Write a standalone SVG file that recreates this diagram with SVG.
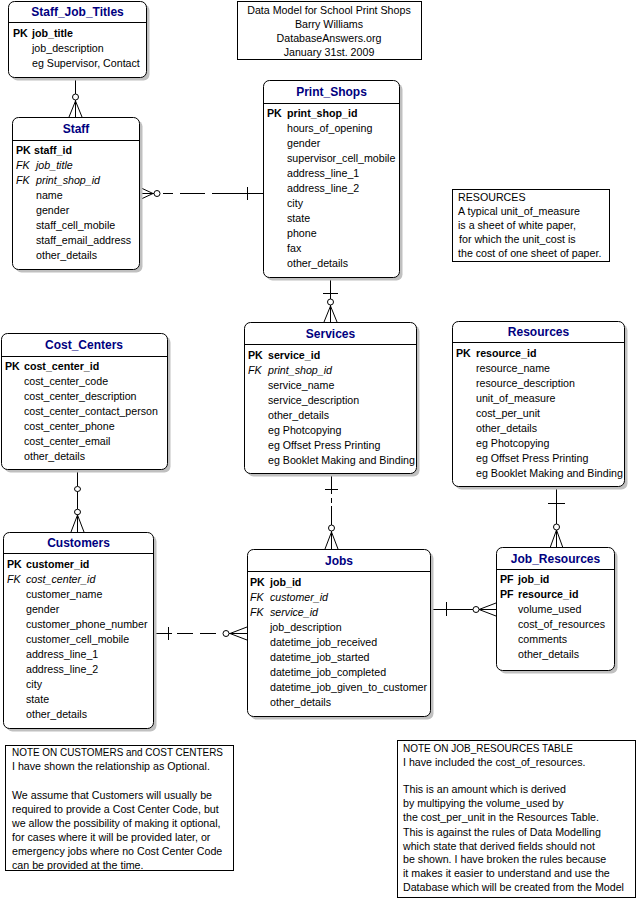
<svg xmlns="http://www.w3.org/2000/svg" width="638" height="900" viewBox="0 0 638 900">
<style>
text{font-family:"Liberation Sans",Arial,sans-serif;font-size:10.67px;fill:#000}
.t{font-size:12px;font-weight:bold;fill:#000080;text-anchor:middle}
.k{font-weight:bold}
.f{font-style:italic}
.sh{fill:#c0c0c0}
.bx{fill:#fff;stroke:#000;stroke-width:1}
.hl{stroke:#000;stroke-width:1}
.nt{fill:#fff;stroke:#000;stroke-width:1}
.c{text-anchor:middle}
#connectors line,#connectors path{stroke:#000;stroke-width:1;fill:none}
#connectors ellipse{stroke:#000;stroke-width:1;fill:#fff}
</style>
<rect width="638" height="900" fill="#fff"/>

<g id="title_note">
<rect class="nt" x="237.5" y="1.5" width="184" height="58"/>
<text class="c" x="329" y="14">Data Model for School Print Shops</text>
<text class="c" x="329" y="28">Barry Williams</text>
<text class="c" x="329" y="42">DatabaseAnswers.org</text>
<text class="c" x="329" y="56">January 31st. 2009</text>
</g>

<g id="resources_note">
<rect class="nt" x="452.5" y="189.5" width="157" height="72"/>
<text x="458" y="201">RESOURCES</text>
<text x="458" y="215">A typical unit_of_measure</text>
<text x="458" y="229">is a sheet of white paper,</text>
<text x="459" y="243">for which the unit_cost is</text>
<text x="458" y="257">the cost of one sheet of paper.</text>
</g>

<g id="customers_note">
<rect class="nt" x="5.5" y="745.5" width="228" height="125"/>
<text x="12" y="756" textLength="211" lengthAdjust="spacingAndGlyphs">NOTE ON CUSTOMERS and COST CENTERS</text>
<text x="12" y="770">I have shown the relationship as Optional.</text>
<text x="12" y="798.5">We assume that Customers will usually be</text>
<text x="12" y="812.5">required to provide a Cost Center Code, but</text>
<text x="12" y="826.5">we allow the possibility of making it optional,</text>
<text x="12" y="840.5">for cases where it will be provided later, or</text>
<text x="12" y="854.5">emergency jobs where no Cost Center Code</text>
<text x="12" y="868.5">can be provided at the time.</text>
</g>

<g id="job_resources_note">
<rect class="nt" x="397.5" y="740.5" width="238" height="157"/>
<text x="403" y="752" textLength="170" lengthAdjust="spacingAndGlyphs">NOTE ON JOB_RESOURCES TABLE</text>
<text x="403" y="766">I have included the cost_of_resources.</text>
<text x="403" y="793">This is an amount which is derived</text>
<text x="403" y="807">by multipying the volume_used by</text>
<text x="403" y="821">the cost_per_unit in the Resources Table.</text>
<text x="403" y="835.5">This is against the rules of Data Modelling</text>
<text x="403" y="849.5">which state that derived fields should not</text>
<text x="403" y="863">be shown. I have broken the rules because</text>
<text x="403" y="877">it makes it easier to understand and use the</text>
<text x="403" y="891">Database which will be created from the Model</text>
</g>

<g id="connectors">
<!-- Staff_Job_Titles to Staff -->
<line x1="75.5" y1="77" x2="75.5" y2="94"/>
<ellipse cx="75.5" cy="97" rx="3" ry="3"/>
<line x1="75.5" y1="100" x2="75.5" y2="117"/>
<path d="M75.5,101 L69,117 M75.5,101 L82,117"/>
<!-- Staff to Print_Shops -->
<path d="M139,187 L153,193.5 L139,200 M139,193.5 L154,193.5"/>
<ellipse cx="157" cy="193.5" rx="3" ry="3"/>
<path d="M163,193.5 H173 M180,193.5 H205 M212,193.5 H263 M247.5,187 V200"/>
<!-- Print_Shops to Services -->
<line x1="330.5" y1="277" x2="330.5" y2="299"/>
<line x1="323" y1="293.5" x2="338" y2="293.5"/>
<ellipse cx="330.5" cy="302" rx="3" ry="3"/>
<line x1="330.5" y1="305" x2="330.5" y2="322"/>
<path d="M330.5,306 L324,322 M330.5,306 L337,322"/>
<!-- Cost_Centers to Customers -->
<line x1="77.5" y1="469" x2="77.5" y2="486"/>
<ellipse cx="77.5" cy="489" rx="3" ry="2.5"/>
<line x1="77.5" y1="491.5" x2="77.5" y2="509"/>
<ellipse cx="77.5" cy="512" rx="3" ry="2.7"/>
<line x1="77.5" y1="514.5" x2="77.5" y2="532"/>
<path d="M77.5,515 L71,532 M77.5,515 L84,532"/>
<!-- Services to Jobs -->
<path d="M331.5,474 V494 M325,489.5 H338 M331.5,498 V503 M331.5,506 V525"/>
<ellipse cx="331.5" cy="528" rx="3" ry="3"/>
<line x1="331.5" y1="531" x2="331.5" y2="549"/>
<path d="M331.5,532 L325,549 M331.5,532 L338,549"/>
<!-- Customers to Jobs -->
<path d="M153,633.5 H172 M168.5,627 V640 M177,633.5 H193 M200,633.5 H216"/>
<ellipse cx="226" cy="633.5" rx="3" ry="3"/>
<path d="M229,633.5 H247 M230,633.5 L247,627 M230,633.5 L247,640"/>
<!-- Resources to Job_Resources -->
<line x1="556.5" y1="486" x2="556.5" y2="524"/>
<line x1="548" y1="503.5" x2="565" y2="503.5"/>
<ellipse cx="556.5" cy="527" rx="3" ry="3"/>
<line x1="556.5" y1="530" x2="556.5" y2="548"/>
<path d="M556.5,530 L550,548 M556.5,530 L563,548"/>
<!-- Jobs to Job_Resources -->
<line x1="430" y1="609.5" x2="473" y2="609.5"/>
<line x1="446.5" y1="602" x2="446.5" y2="616"/>
<ellipse cx="476" cy="609.5" rx="3" ry="3"/>
<path d="M479,609.5 H496 M479,609.5 L496,603 M479,609.5 L496,616"/>
</g>

<g id="Staff_Job_Titles">
<rect class="sh" x="11.5" y="4.5" width="138" height="76" rx="6"/>
<rect class="bx" x="8.5" y="1.5" width="138" height="76" rx="6"/>
<line class="hl" x1="8.5" y1="22.5" x2="146.5" y2="22.5"/>
<text class="t" x="77.5" y="16">Staff_Job_Titles</text>
<text class="k" x="13" y="37">PK</text><text class="k" x="32" y="37">job_title</text>
<text x="32" y="52">job_description</text>
<text x="32" y="67">eg Supervisor, Contact</text>
</g>

<g id="Staff">
<rect class="sh" x="15.5" y="120.5" width="127" height="152" rx="6"/>
<rect class="bx" x="12.5" y="117.5" width="127" height="152" rx="6"/>
<line class="hl" x1="12.5" y1="140.5" x2="139.5" y2="140.5"/>
<text class="t" x="76" y="133">Staff</text>
<text class="k" x="16" y="154">PK</text><text class="k" x="34" y="154">staff_id</text>
<text class="f" x="16" y="169">FK</text><text class="f" x="36" y="169">job_title</text>
<text class="f" x="16" y="184">FK</text><text class="f" x="36" y="184">print_shop_id</text>
<text x="36" y="199">name</text>
<text x="36" y="214">gender</text>
<text x="36" y="229">staff_cell_mobile</text>
<text x="36" y="244">staff_email_address</text>
<text x="36" y="259">other_details</text>
</g>

<g id="Print_Shops">
<rect class="sh" x="266.5" y="83.5" width="136" height="197" rx="6"/>
<rect class="bx" x="263.5" y="80.5" width="136" height="197" rx="6"/>
<line class="hl" x1="263.5" y1="103.5" x2="399.5" y2="103.5"/>
<text class="t" x="331.5" y="96">Print_Shops</text>
<text class="k" x="267" y="117">PK</text><text class="k" x="287" y="117">print_shop_id</text>
<text x="287" y="132">hours_of_opening</text>
<text x="287" y="147">gender</text>
<text x="287" y="162">supervisor_cell_mobile</text>
<text x="287" y="177">address_line_1</text>
<text x="287" y="192">address_line_2</text>
<text x="287" y="207">city</text>
<text x="287" y="222">state</text>
<text x="287" y="237">phone</text>
<text x="287" y="252">fax</text>
<text x="287" y="267">other_details</text>
</g>

<g id="Cost_Centers">
<rect class="sh" x="4.5" y="336.5" width="166" height="136" rx="6"/>
<rect class="bx" x="1.5" y="333.5" width="166" height="136" rx="6"/>
<line class="hl" x1="1.5" y1="356.5" x2="167.5" y2="356.5"/>
<text class="t" x="84" y="348.5">Cost_Centers</text>
<text class="k" x="5" y="370">PK</text><text class="k" x="24" y="370">cost_center_id</text>
<text x="24" y="385">cost_center_code</text>
<text x="24" y="400">cost_center_description</text>
<text x="24" y="415">cost_center_contact_person</text>
<text x="24" y="430">cost_center_phone</text>
<text x="24" y="445">cost_center_email</text>
<text x="24" y="460">other_details</text>
</g>

<g id="Services">
<rect class="sh" x="247.5" y="325.5" width="172" height="151" rx="6"/>
<rect class="bx" x="244.5" y="322.5" width="172" height="151" rx="6"/>
<line class="hl" x1="244.5" y1="344.5" x2="416.5" y2="344.5"/>
<text class="t" x="330.5" y="337.5">Services</text>
<text class="k" x="248" y="359">PK</text><text class="k" x="268" y="359">service_id</text>
<text class="f" x="248" y="374">FK</text><text class="f" x="268" y="374">print_shop_id</text>
<text x="268" y="389">service_name</text>
<text x="268" y="404">service_description</text>
<text x="268" y="419">other_details</text>
<text x="268" y="434">eg Photcopying</text>
<text x="268" y="449">eg Offset Press Printing</text>
<text x="268" y="464">eg Booklet Making and Binding</text>
</g>

<g id="Resources">
<rect class="sh" x="455.5" y="324.5" width="172" height="165" rx="6"/>
<rect class="bx" x="452.5" y="321.5" width="172" height="165" rx="6"/>
<line class="hl" x1="452.5" y1="342.5" x2="624.5" y2="342.5"/>
<text class="t" x="538.5" y="336">Resources</text>
<text class="k" x="456" y="357">PK</text><text class="k" x="476" y="357">resource_id</text>
<text x="476" y="372">resource_name</text>
<text x="476" y="387">resource_description</text>
<text x="476" y="402">unit_of_measure</text>
<text x="476" y="417">cost_per_unit</text>
<text x="476" y="432">other_details</text>
<text x="476" y="447">eg Photcopying</text>
<text x="476" y="462">eg Offset Press Printing</text>
<text x="476" y="477">eg Booklet Making and Binding</text>
</g>

<g id="Customers">
<rect class="sh" x="6.5" y="535.5" width="150" height="196" rx="6"/>
<rect class="bx" x="3.5" y="532.5" width="150" height="196" rx="6"/>
<line class="hl" x1="3.5" y1="553.5" x2="153.5" y2="553.5"/>
<text class="t" x="78.5" y="547">Customers</text>
<text class="k" x="7" y="568">PK</text><text class="k" x="26" y="568">customer_id</text>
<text class="f" x="7" y="583">FK</text><text class="f" x="26" y="583">cost_center_id</text>
<text x="26" y="598">customer_name</text>
<text x="26" y="613">gender</text>
<text x="26" y="628">customer_phone_number</text>
<text x="26" y="643">customer_cell_mobile</text>
<text x="26" y="658">address_line_1</text>
<text x="26" y="673">address_line_2</text>
<text x="26" y="688">city</text>
<text x="26" y="703">state</text>
<text x="26" y="718">other_details</text>
</g>

<g id="Jobs">
<rect class="sh" x="250.5" y="552.5" width="183" height="167" rx="6"/>
<rect class="bx" x="247.5" y="549.5" width="183" height="167" rx="6"/>
<line class="hl" x1="247.5" y1="571.5" x2="430.5" y2="571.5"/>
<text class="t" x="339" y="565">Jobs</text>
<text class="k" x="250" y="586">PK</text><text class="k" x="270" y="586">job_id</text>
<text class="f" x="250" y="601">FK</text><text class="f" x="270" y="601">customer_id</text>
<text class="f" x="250" y="616">FK</text><text class="f" x="270" y="616">service_id</text>
<text x="270" y="631">job_description</text>
<text x="270" y="646">datetime_job_received</text>
<text x="270" y="661">datetime_job_started</text>
<text x="270" y="676">datetime_job_completed</text>
<text x="270" y="691">datetime_job_given_to_customer</text>
<text x="270" y="706">other_details</text>
</g>

<g id="Job_Resources">
<rect class="sh" x="499.5" y="550.5" width="118" height="123" rx="6"/>
<rect class="bx" x="496.5" y="547.5" width="118" height="123" rx="6"/>
<line class="hl" x1="496.5" y1="569.5" x2="614.5" y2="569.5"/>
<text class="t" x="555.5" y="562.5">Job_Resources</text>
<text class="k" x="500" y="583">PF</text><text class="k" x="518" y="583">job_id</text>
<text class="k" x="500" y="598">PF</text><text class="k" x="518" y="598">resource_id</text>
<text x="518" y="613">volume_used</text>
<text x="518" y="628">cost_of_resources</text>
<text x="518" y="643">comments</text>
<text x="518" y="658">other_details</text>
</g>
</svg>
